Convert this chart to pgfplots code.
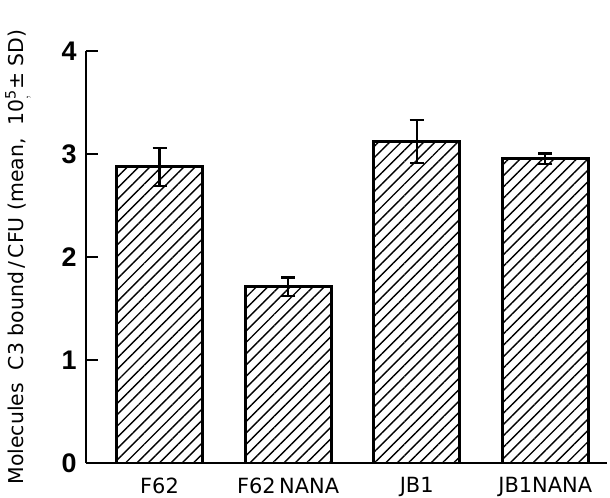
\documentclass[border=0pt]{standalone}
\usepackage{fontspec}
\setmainfont{DejaVu Sans}
\newfontfamily\tickfont{Liberation Sans}
\usepackage{pgfplots}
\pgfplotsset{compat=1.18}
\usetikzlibrary{patterns.meta}
\begin{document}
\begin{tikzpicture}[x=1bp,y=1bp]
\begin{axis}[
  scale only axis,
  width=521bp, height=412bp,
  xmin=-0.572, xmax=3.48,
  ymin=0, ymax=4,
  axis x line=bottom, axis y line=left,
  axis line style={line width=2.8bp, -},
  xtick=data,
  xticklabels={F62, F62\,NANA, JB1, JB1NANA},
  xtick style={draw=none},
  ytick={0,1,2,3,4},
  yticklabel style={font=\tickfont\fontsize{27}{29}\selectfont\bfseries, xshift=-6bp},
  xticklabel style={font=\fontsize{21}{23}\selectfont, yshift=-11bp},
  /pgf/number format/assume math mode=true,
  ytick style={line width=2bp, black},
  tick align=inside,
  major tick length=12bp,
  ylabel={Molecules\ \ C3 bound\,/\,CFU (mean,\ \ 10$^{\mathrm{5}}_{,}$± SD)},
  ylabel style={font=\fontsize{20.5}{22}\selectfont, at={(-68bp,0.5)}, anchor=center},
  clip=false,
]
\addplot[ybar, bar width=86bp, draw=black, line width=2.8bp,
  pattern={Lines[angle=45,distance=8bp,line width=1.4bp]},
  error bars/.cd, y dir=both, y explicit,
  error bar style={line width=2.2bp, black},
  error mark options={rotate=90, mark size=7bp, line width=2.2bp}]
  coordinates {
  (0,2.875) +- (0,0.185)
  (1,1.71) +- (0,0.09)
  (2,3.12) +- (0,0.21)
  (3,2.955) +- (0,0.05)
  };
\end{axis}
\pgfresetboundingbox
\path (current axis.south west) ++(-86bp,-35bp) rectangle ++(610bp,498bp);
\end{tikzpicture}
\end{document}
